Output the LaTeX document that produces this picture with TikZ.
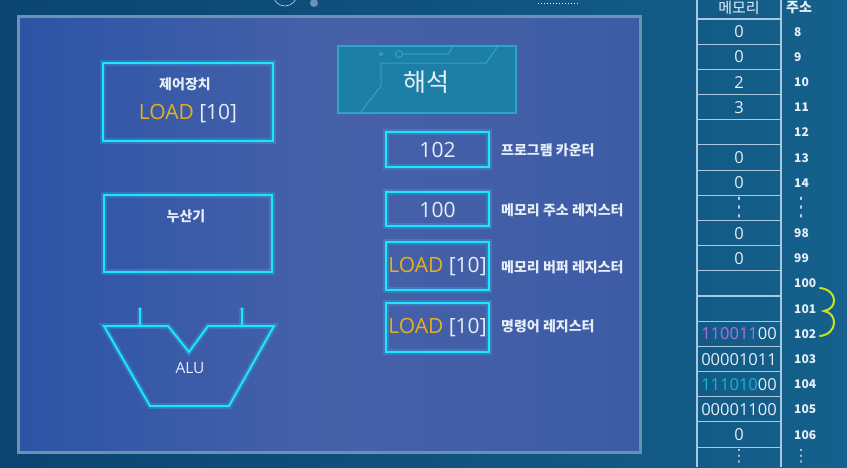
\documentclass[tikz,border=0pt]{standalone}
\usepackage{fontspec}
\setmainfont{Open Sans}
\newfontfamily\kr{Noto Sans CJK KR}
\newfontfamily\dv{DejaVu Sans}
\definecolor{bgA}{HTML}{0B4470}
\definecolor{bgB}{HTML}{15608C}
\definecolor{panA}{HTML}{2C54A6}
\definecolor{panM}{HTML}{4761A9}
\definecolor{panB}{HTML}{3D5CA6}
\definecolor{panEdge}{HTML}{6A92B4}
\definecolor{neon}{HTML}{1FE3FF}
\definecolor{loadc}{HTML}{E6AE22}
\definecolor{txt}{HTML}{E6EEF8}
\definecolor{tealf}{HTML}{1E7FA6}
\definecolor{tealedge}{HTML}{2AA6C8}
\definecolor{gridc}{HTML}{A9C7DE}
\definecolor{purp}{HTML}{B06EE0}
\definecolor{cyn}{HTML}{17B3D6}
\definecolor{brc}{HTML}{C9E21E}
\begin{document}
\begin{tikzpicture}[x=1pt,y=-1pt,
  neonbox/.style={draw=neon, line width=2.2pt, preaction={draw=neon, line width=6pt, draw opacity=0.22}, inner sep=0pt},
  neonline/.style={draw=neon, line width=2pt, line join=miter, preaction={draw=neon, line width=6pt, draw opacity=0.22}},
  kb/.style={font=\kr\bfseries\fontsize{14}{16}\selectfont, text=txt, inner sep=0pt},
  regl/.style={font=\kr\bfseries\fontsize{14}{16}\selectfont, text=txt, anchor=west, inner sep=0pt},
  bigt/.style={font=\fontsize{21}{24}\selectfont, text=txt, inner sep=0pt},
  memv/.style={font=\fontsize{16.5}{18}\selectfont, text=txt, inner sep=0pt},
  addr/.style={font=\kr\bfseries\fontsize{12}{14}\selectfont, text=txt, anchor=west, inner sep=0pt},
  vd/.style={font=\dv\fontsize{15}{17}\selectfont, text=txt, inner sep=0pt, yscale=1.7},
  vdb/.style={font=\dv\fontsize{13}{15}\selectfont, text=txt, inner sep=0pt, yscale=1.3},
  gridl/.style={draw=gridc, line width=1.1pt}
]
\useasboundingbox (0,0) rectangle (847,467);
% background
\shade[left color=bgA, right color=bgB] (0,0) rectangle (847,467);
% top decorations
\draw[draw=gridc!80, line width=0.6pt] (285,-6) circle (12);
\fill[panEdge] (314,3) circle (4);
\draw[white, line width=1pt, dotted] (538,3) -- (578,3);
% main panel
\shade[left color=panA, right color=panB, middle color=panM] (18,16) rectangle (640,452);
\draw[panEdge, line width=3pt] (18,16) rectangle (640,452);

% control unit
\node[neonbox, minimum width=170pt, minimum height=78pt] (cu) at (188,102) {};
\node[kb] (cut) at (185,84) {제어장치};
\node[bigt] (cuv) at (188,114) {{\color{loadc}LOAD} [10]};

% accumulator
\node[neonbox, minimum width=168pt, minimum height=77pt] (acc) at (188,233.5) {};
\node[kb] (acct) at (186,216) {누산기};

% ALU
\draw[neonline] (104,326) -- (168,326) -- (189,352) -- (208,326) -- (274,326) -- (229,406) -- (150,406) -- cycle;
\draw[neonline] (140,326) -- (140,310);
\draw[neonline] (242,326) -- (242,310);
\fill[neon] (140,309) circle (1.8);
\fill[neon] (242,309) circle (1.8);
\node[font=\fontsize{15.5}{17}\selectfont, text=txt, inner sep=0pt] (alu) at (190,368) {ALU};

% decode box
\node[draw=tealedge, fill=tealf, line width=1.5pt, minimum width=178pt, minimum height=67pt, inner sep=0pt] (hs) at (427,79.5) {};
\draw[tealedge, line width=1pt] (381,54) circle (1.6);
\draw[tealedge, line width=1pt] (399,54) circle (3.6);
\draw[tealedge, line width=1pt] (402.6,54) -- (448,54) -- (453,46);
\draw[tealedge, line width=1pt] (360,113) -- (381,86) -- (381,63) -- (486,63) -- (498,46);
\node[font=\kr\fontsize{25}{28}\selectfont, text=txt, inner sep=0pt] (hst) at (426,82) {해석};

% registers
\node[neonbox, minimum width=103pt, minimum height=35pt] (pc) at (437.5,149.5) {};
\node[bigt] (pcv) at (437.5,150) {102};
\node[regl] (pcl) at (501,150) {프로그램 카운터};

\node[neonbox, minimum width=103pt, minimum height=34pt] (mar) at (437.5,209) {};
\node[bigt] (marv) at (437.5,209.5) {100};
\node[regl] (marl) at (501,210) {메모리 주소 레지스터};

\node[neonbox, minimum width=103pt, minimum height=48pt] (mbr) at (437.5,266) {};
\node[bigt] (mbrv) at (437.5,267) {{\color{loadc}LOAD} [10]};
\node[regl] (mbrl) at (501,267) {메모리 버퍼 레지스터};

\node[neonbox, minimum width=103pt, minimum height=49pt] (ir) at (437.5,327.5) {};
\node[bigt] (irv) at (437.5,328) {{\color{loadc}LOAD} [10]};
\node[regl] (irl) at (501,326) {명령어 레지스터};

% memory table
\draw[gridl] (697,0) -- (697,467);
\draw[gridl] (781,0) -- (781,467);
\foreach \k in {0,...,17} {
  \draw[gridl] (697,19+25.18*\k) -- (781,19+25.18*\k);
}
\node[font=\kr\fontsize{15}{17}\selectfont, text=txt, inner sep=0pt] (memh) at (739,8) {메모리};
\node[font=\kr\bfseries\fontsize{14}{16}\selectfont, text=txt, inner sep=0pt] (addrh) at (799,8) {주소};

\foreach \v [count=\i from 0] in {0,0,2,3,{},0,0,{},0,0,{},{},{{\color{purp}110011}00},00001011,{{\color{cyn}111010}00},00001100,0,{}} {
  \node[memv] (m\i) at (739,19+25.18*\i+12.8) {\v};
}
\foreach \a [count=\i from 0] in {8,9,10,11,12,13,14,{},98,99,100,101,102,103,104,105,106,{}} {
  \node[addr] (a\i) at (794,19+25.18*\i+12.8) {\a};
}
\node[vd] (md1) at (739,207.9) {⋮};
\node[vdb] (md2) at (739,456) {⋮};
\node[vd] (ad1) at (801,207.9) {⋮};
\node[vdb] (ad2) at (801,456) {⋮};

% brace
\draw[brc, line width=2pt, line cap=round] (820,288) .. controls (838,290) and (838,309) .. (824,311) .. controls (838,313) and (838,334) .. (820,336);
\end{tikzpicture}
\end{document}
